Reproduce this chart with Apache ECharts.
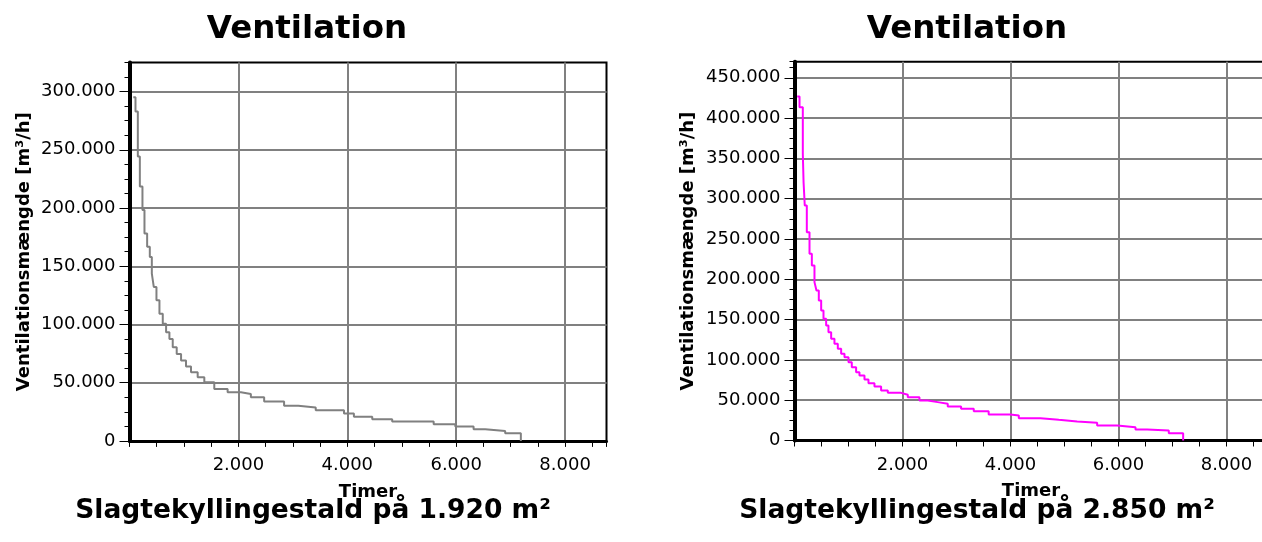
<!DOCTYPE html>
<html><head><meta charset="utf-8">
<script src="https://cdn.jsdelivr.net/npm/echarts@6/dist/echarts.min.js"></script>
<style>html,body{margin:0;padding:0;background:#fff}#c{width:1262px;height:542px}</style>
</head><body><div id="c"></div>
<script>
// ---- data ----
const hoursLeft = [70, 110, 153, 190, 238, 275, 324, 373, 410, 446, 495, 550, 611, 672, 733, 794, 867, 947, 1038, 1130, 1252, 1374, 1557, 1802, 2046, 2229, 2473, 2839, 3100, 3420, 3939, 4121, 4458, 4824, 5586, 5984, 6319, 6533, 6899, 7187];
const ventLeft = [295100, 283000, 244200, 218400, 198300, 178200, 166700, 158000, 143700, 132200, 120700, 109200, 100600, 93400, 87600, 80400, 74700, 69000, 63800, 58900, 54600, 50300, 44500, 41700, 40200, 37400, 33900, 30200, 28700, 26400, 23500, 20700, 18700, 16700, 14400, 12300, 10100, 8600, 6600, 0];
const hoursRight = [50, 93, 154, 168, 190, 228, 278, 321, 370, 407, 450, 494, 537, 586, 629, 679, 740, 802, 864, 926, 1000, 1061, 1141, 1203, 1296, 1370, 1481, 1604, 1728, 1974, 2098, 2314, 2468, 2653, 2838, 3085, 3320, 3596, 4000, 4154, 4556, 4895, 5235, 5605, 5976, 6315, 6531, 6932, 7198];
const ventRight = [426800, 413600, 355700, 320500, 291600, 258500, 231600, 217100, 196500, 186000, 173700, 161300, 151000, 142700, 134400, 126100, 119900, 113700, 107500, 103400, 97200, 91000, 84800, 80700, 75700, 71100, 67000, 62000, 59100, 56700, 53800, 49600, 47600, 45500, 42200, 39300, 36400, 32300, 31000, 27700, 25600, 23600, 21900, 18600, 16500, 13700, 12400, 9100, 0];
const chartTitles = ['Ventilation', 'Ventilation'];
const subTitles = ['Slagtekyllingestald på 1.920 m²', 'Slagtekyllingestald på 2.850 m²'];
const xName = 'Timer';
const yName = 'Ventilationsmængde [m³/h]';
const xMax = 8760, xStep = 2000, xMinorStep = 500;
const yMaxes = [325000, 470000];
const yStep = 50000, yMinorStep = 12500;

// ---- chart ----
const FONT = '"DejaVu Sans", Verdana, sans-serif';
const fmt = v => String(v).replace(/\B(?=(\d{3})+(?!\d))/g, '.');
const chart = echarts.init(document.getElementById('c'), null, {renderer: 'canvas'});

const grids = [
  {left: 129.5, top: 62.5, width: 477, height: 378.4},
  {left: 794.5, top: 61.7, width: 473, height: 378.8}
].map(g => Object.assign(g, {show: true, borderColor: '#000', borderWidth: 2, containLabel: false, outerBoundsMode: 'none'}));

const xAxes = [], yAxes = [];
const nameGapsY = [96, 97];
[0, 1].forEach(g => {
  xAxes.push({
    type: 'value', gridIndex: g, position: 'bottom', min: 0, max: xMax, interval: xStep,
    axisLine: {show: true, onZero: false, lineStyle: {color: '#000', width: 3}},
    axisTick: {show: false},
    axisLabel: {color: '#000', fontFamily: FONT, fontSize: 18, margin: 15.5, showMinLabel: false, showMaxLabel: false, formatter: fmt},
    splitLine: {show: true, showMinLine: false, showMaxLine: false, lineStyle: {color: '#808080', width: 2}},
    name: xName, nameLocation: 'middle', nameGap: 42,
    nameTextStyle: {color: '#000', fontFamily: FONT, fontSize: 18, fontWeight: 'bold'}
  });
  xAxes.push({
    type: 'value', gridIndex: g, position: 'bottom', min: 0, max: xMax, interval: xMinorStep,
    axisLine: {show: false, onZero: false}, axisLabel: {show: false}, splitLine: {show: false},
    axisTick: {show: true, length: 6, lineStyle: {color: '#000', width: 1}}
  });
  yAxes.push({
    type: 'value', gridIndex: g, position: 'left', min: 0, max: yMaxes[g], interval: yStep,
    axisLine: {show: true, onZero: false, lineStyle: {color: '#000', width: 4}},
    axisTick: {show: true, length: 10, lineStyle: {color: '#000', width: 1}},
    axisLabel: {color: '#000', fontFamily: FONT, fontSize: 18, margin: 14, showMaxLabel: false, formatter: fmt},
    splitLine: {show: true, showMinLine: false, showMaxLine: false, lineStyle: {color: '#808080', width: 2}},
    name: yName, nameLocation: 'middle', nameGap: nameGapsY[g],
    nameTextStyle: {color: '#000', fontFamily: FONT, fontSize: 18, fontWeight: 'bold'}
  });
  yAxes.push({
    type: 'value', gridIndex: g, position: 'left', min: 0, max: yMaxes[g], interval: yMinorStep,
    axisLine: {show: false, onZero: false}, axisLabel: {show: false}, splitLine: {show: false},
    axisTick: {show: true, length: 5, lineStyle: {color: '#000', width: 1}}
  });
});

const series = [
  {type: 'line', xAxisIndex: 0, yAxisIndex: 0, step: 'end', showSymbol: false, symbol: 'none',
   data: hoursLeft.map((h, i) => [h, ventLeft[i]]),
   lineStyle: {color: '#808080', width: 2}, itemStyle: {color: '#808080'}},
  {type: 'line', xAxisIndex: 2, yAxisIndex: 2, step: 'end', showSymbol: false, symbol: 'none',
   data: hoursRight.map((h, i) => [h, ventRight[i]]),
   lineStyle: {color: '#ff00ff', width: 2}, itemStyle: {color: '#ff00ff'}}
];

const titleX = [307, 967], subX = [313, 977];
const graphic = [];
[0, 1].forEach(i => {
  graphic.push({type: 'text', x: titleX[i], y: 30, style: {text: chartTitles[i], fill: '#000', font: 'bold 32.5px ' + FONT, align: 'center', verticalAlign: 'middle'}});
  graphic.push({type: 'text', x: subX[i], y: 511, style: {text: subTitles[i], fill: '#000', font: 'bold 26.5px ' + FONT, align: 'center', verticalAlign: 'middle'}});
});

chart.setOption({
  animation: false,
  backgroundColor: '#fff',
  grid: grids,
  xAxis: xAxes,
  yAxis: yAxes,
  series: series,
  graphic: graphic
});
</script></body></html>
